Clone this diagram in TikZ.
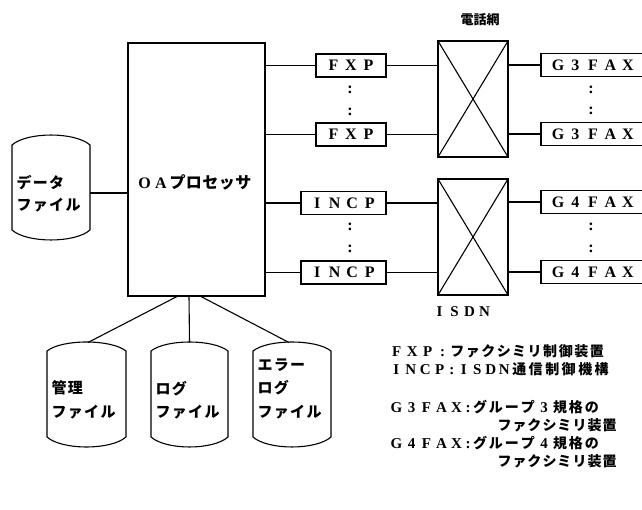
\documentclass[tikz,border=0pt]{standalone}
\usepackage{fontspec}
\setmainfont{Liberation Serif}
\newfontfamily\jp{Noto Sans CJK JP}
\usetikzlibrary{calc}
\makeatletter
\def\spc#1#2{\def\spc@w{#1}\spc@i#2\relax}
\def\spc@i#1{\ifx\relax#1\else\makebox[\spc@w]{#1}\expandafter\spc@i\fi}
\makeatother
\newcommand\lat{\rmfamily\bfseries}
\newcommand\jpb{\jp\bfseries}
\newcommand\jpl{\jpb\fontsize{14}{14}\selectfont}
\tikzset{
  every node/.style={inner sep=0pt, outer sep=0pt},
  wire/.style={line width=1.1pt},
  box/.style={draw, line width=1.1pt, minimum height=23pt, font=\fontsize{16}{16}\selectfont\lat},
  xbar/.style={draw, line width=1.1pt, minimum width=70pt, minimum height=116pt},
  dots/.style={font=\fontsize{16}{16}\selectfont\lat},
  cyltxt/.style={align=left, anchor=west, font=\fontsize{15}{23.5}\selectfont\jpb},
  legend/.style={anchor=west, font=\fontsize{15}{15}\selectfont\lat},
}
\begin{document}
\begin{tikzpicture}[x=1pt, y=-1pt]
\useasboundingbox (0,0) rectangle (642,510);
\clip (0,0) rectangle (642,510);

% OA processor
\node[draw, line width=1.1pt, minimum width=137pt, minimum height=253pt] (oa) at (196.5,169.5) {};
\node[font=\fontsize{16}{16}\selectfont] (oatxt) at (194,182) {{\lat\spc{16.5pt}{OA}}{\jpb\spc{16.5pt}{プロセッサ}}};

% FXP / INCP boxes
\node[box, minimum width=70pt] (fxp1) at (351,65.5) {\spc{17.5pt}{FXP}};
\node[box, minimum width=70pt] (fxp2) at (351,134.5) {\spc{17.5pt}{FXP}};
\node[box, minimum width=85pt] (incp1) at (343.5,203) {\spc{17.5pt}{INCP}};
\node[box, minimum width=85pt] (incp2) at (343.5,272.5) {\spc{17.5pt}{INCP}};
\node[dots] (d1) at (350,90) {:};
\node[dots] (d2) at (350,112) {:};
\node[dots] (d3) at (350,227) {:};
\node[dots] (d4) at (350,249) {:};

% crossbars
\node[xbar] (xb1) at (473,99) {};
\node[xbar] (xb2) at (473,237) {};
\draw[wire] (xb1.north west) -- (xb1.south east) (xb1.north east) -- (xb1.south west);
\draw[wire] (xb2.north west) -- (xb2.south east) (xb2.north east) -- (xb2.south west);
\node[font=\fontsize{13}{13}\selectfont\jpb] (tel) at (480,20) {電話網};
\node[font=\fontsize{15}{15}\selectfont\lat] (isdn) at (462,312) {\spc{15pt}{ISDN}};

% FAX boxes
\node[box, minimum width=104pt] (g3a) at (593,65) {\spc{17.5pt}{G3FAX}};
\node[box, minimum width=104pt] (g3b) at (593,134) {\spc{17.5pt}{G3FAX}};
\node[box, minimum width=104pt] (g4a) at (593,202) {\spc{17.5pt}{G4FAX}};
\node[box, minimum width=104pt] (g4b) at (593,272) {\spc{17.5pt}{G4FAX}};
\node[dots] (d5) at (591,90) {:};
\node[dots] (d6) at (591,111) {:};
\node[dots] (d7) at (591,227) {:};
\node[dots] (d8) at (591,249) {:};

% connectors right side
\draw[wire] (oa.east |- fxp1.west) -- (fxp1.west);
\draw[wire] (oa.east |- fxp2.west) -- (fxp2.west);
\draw[wire] (oa.east |- incp1.west) -- (incp1.west);
\draw[wire] (oa.east |- incp2.west) -- (incp2.west);
\draw[wire] (fxp1.east) -- (xb1.west |- fxp1.east);
\draw[wire] (fxp2.east) -- (xb1.west |- fxp2.east);
\draw[wire] (incp1.east) -- (xb2.west |- incp1.east);
\draw[wire] (incp2.east) -- (xb2.west |- incp2.east);
\draw[wire] (xb1.east |- g3a.west) -- (g3a.west);
\draw[wire] (xb1.east |- g3b.west) -- (g3b.west);
\draw[wire] (xb2.east |- g4a.west) -- (g4a.west);
\draw[wire] (xb2.east |- g4b.west) -- (g4b.west);

% data file cylinder
\draw[wire] (12,145) .. controls (27,131.7) and (75,131.7) .. (90,145) -- (90,230)
  .. controls (75,243.3) and (27,243.3) .. (12,230) -- cycle;
\coordinate (dataR) at (90,193);
\node[cyltxt, font=\fontsize{15}{22}\selectfont\jpb] (datatxt) at (16,194) {\spc{16.3pt}{データ}\\\spc{16.3pt}{ファイル}};
\draw[wire] (dataR) -- (oa.west |- dataR);

% bottom cylinders
\draw[wire] (47,351) .. controls (62,339) and (111,339) .. (126,351) -- (126,437)
  .. controls (111,450.3) and (62,450.3) .. (47,437) -- cycle;
\draw[wire] (151,351) .. controls (166,339) and (213,339) .. (228,351) -- (228,437)
  .. controls (213,450.3) and (166,450.3) .. (151,437) -- cycle;
\draw[wire] (253,351) .. controls (268,339) and (316,339) .. (331,351) -- (331,437)
  .. controls (316,450.3) and (268,450.3) .. (253,437) -- cycle;
\coordinate (kanriT) at (88,342.5);
\coordinate (logT) at (189.5,342.5);
\coordinate (errT) at (289,342.5);
\node[cyltxt] (kanritxt) at (51,400) {\spc{16.3pt}{管理}\\\spc{16.3pt}{ファイル}};
\node[cyltxt] (logtxt) at (155,400) {\spc{16.3pt}{ログ}\\\spc{16.3pt}{ファイル}};
\node[cyltxt] (errtxt) at (257,388.5) {\spc{16.3pt}{エラー}\\\spc{16.3pt}{ログ}\\\spc{16.3pt}{ファイル}};
\draw[wire] ($(oa.south)+(-18.5,0)$) -- (kanriT);
\draw[wire] ($(oa.south)+(-7.5,0)$) -- (logT);
\draw[wire] ($(oa.south)+(3.5,0)$) -- (errT);

% legend
\node[legend] (l1) at (389,351) {\spc{15.5pt}{FXP}\makebox[14pt]{:}{\jpl\spc{15.5pt}{ファクシミリ制御装置}}};
\node[legend] (l2) at (389,369) {\spc{14.5pt}{INCP}\makebox[10pt]{:}\spc{13.5pt}{ISDN}{\jpl\spc{16.5pt}{通信制御機構}}};
\node[legend] (l3) at (389,407) {\spc{15pt}{G3FAX}\makebox[8pt]{:}{\jpl\spc{16pt}{グループ}}\makebox[16pt]{3}{\jpl\spc{16pt}{規格の}}};
\node[legend, font=\jpl] (l4) at (497,425) {\spc{15pt}{ファクシミリ装置}};
\node[legend] (l5) at (389,443) {\spc{15pt}{G4FAX}\makebox[8pt]{:}{\jpl\spc{16pt}{グループ}}\makebox[16pt]{4}{\jpl\spc{16pt}{規格の}}};
\node[legend, font=\jpl] (l6) at (497,461) {\spc{15pt}{ファクシミリ装置}};
\end{tikzpicture}
\end{document}
